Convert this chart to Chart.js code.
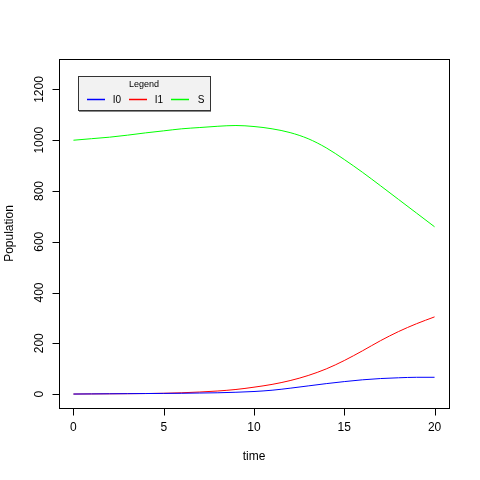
<!DOCTYPE html>
<html>
<head>
<meta charset="utf-8">
<script src="https://cdn.jsdelivr.net/npm/chart.js@4"></script>
<style>
  html, body { margin: 0; padding: 0; background: #fff; }
  #wrap { width: 480px; height: 480px; }
</style>
</head>
<body>
<div id="wrap"><canvas id="chart" width="480" height="480"></canvas></div>
<script>
const times = [0, 1, 2, 3, 4, 5, 6, 7, 8, 9, 10, 11, 12, 13, 14, 15, 16, 17, 18, 19, 20]
const seriesI0 = [0, 0.5, 1, 1.5, 2, 2.5, 3, 4, 5, 7, 10, 15, 23, 32, 41, 49, 56, 61, 64, 66, 66]
const seriesI1 = [0, 0.5, 1, 1.5, 2, 3, 5, 8, 12, 18, 27, 38, 53, 73, 99, 132, 170, 210, 246, 277, 304]
const seriesS = [1000, 1006, 1012, 1020, 1029, 1037, 1045, 1050, 1055, 1058, 1054, 1045, 1030, 1006, 970, 924, 874, 821, 767, 713, 659]
const seriesNames = ['I0', 'I1', 'S']
const seriesColors = ['#0000ff', '#ff0000', '#00ff00']
const xTicks = [0, 5, 10, 15, 20]
const yTicks = [0, 200, 400, 600, 800, 1000, 1200]
const xTitle = 'time'
const yTitle = 'Population'
const legendTitle = 'Legend'

const FONT = '"Liberation Sans", Arial, sans-serif'

const toPoints = vals => vals.map((v, i) => ({ x: times[i], y: v }))

// R-style box, axes and legend drawn from the chart's own scales
const rAxes = {
  id: 'rAxes',
  afterDraw(chart) {
    const { ctx, chartArea: a, scales: { x, y } } = chart
    ctx.save()
    ctx.strokeStyle = '#000'
    ctx.fillStyle = '#000'
    ctx.lineWidth = 1
    ctx.strokeRect(a.left + 0.5, a.top + 0.5, a.right - a.left, a.bottom - a.top)

    // x axis
    const xl = Math.round(x.getPixelForValue(xTicks[0])) + 0.5
    const xr = Math.round(x.getPixelForValue(xTicks[xTicks.length - 1])) + 0.5
    const xb = a.bottom + 0.5
    ctx.beginPath()
    ctx.moveTo(xl, xb); ctx.lineTo(xr, xb)
    xTicks.forEach(t => {
      const px = Math.round(x.getPixelForValue(t)) + 0.5
      ctx.moveTo(px, xb); ctx.lineTo(px, xb + 7)
    })
    ctx.stroke()
    ctx.font = '12px ' + FONT
    ctx.textAlign = 'center'
    ctx.textBaseline = 'middle'
    xTicks.forEach(t => ctx.fillText(String(t), x.getPixelForValue(t), a.bottom + 20))
    ctx.fillText(xTitle, (a.left + a.right) / 2, a.bottom + 49)

    // y axis
    const yb = Math.round(y.getPixelForValue(yTicks[0])) + 0.5
    const yt = Math.round(y.getPixelForValue(yTicks[yTicks.length - 1])) + 0.5
    const yl = a.left + 0.5
    ctx.beginPath()
    ctx.moveTo(yl, yb); ctx.lineTo(yl, yt)
    yTicks.forEach(t => {
      const py = Math.round(y.getPixelForValue(t)) + 0.5
      ctx.moveTo(yl, py); ctx.lineTo(yl - 7, py)
    })
    ctx.stroke()
    yTicks.forEach(t => {
      ctx.save()
      ctx.translate(a.left - 19, y.getPixelForValue(t))
      ctx.rotate(-Math.PI / 2)
      ctx.fillText(String(t), 0, 0)
      ctx.restore()
    })
    ctx.save()
    ctx.translate(a.left - 49, (a.top + a.bottom) / 2)
    ctx.rotate(-Math.PI / 2)
    ctx.fillText(yTitle, 0, 0)
    ctx.restore()

    // legend box
    const lx = 78, ly = 76, lw = 132, lh = 34
    ctx.fillStyle = '#f2f2f2'
    ctx.fillRect(lx, ly, lw, lh)
    ctx.strokeStyle = '#333'
    ctx.strokeRect(lx + 0.5, ly + 0.5, lw, lh)
    ctx.strokeStyle = '#888'
    ctx.beginPath()
    ctx.moveTo(lx + 1, ly + lh + 1.5); ctx.lineTo(lx + lw + 1, ly + lh + 1.5)
    ctx.stroke()
    ctx.fillStyle = '#000'
    ctx.font = '9px ' + FONT
    ctx.fillText(legendTitle, lx + lw / 2, ly + 9)
    ctx.font = '10px ' + FONT
    chart.data.datasets.forEach((ds, i) => {
      const sx = 87 + i * 42
      ctx.strokeStyle = ds.borderColor
      ctx.lineWidth = 1.5
      ctx.beginPath()
      ctx.moveTo(sx, ly + 23.5); ctx.lineTo(sx + 18, ly + 23.5)
      ctx.stroke()
      ctx.fillText(ds.label, sx + 30, ly + 24)
    })
    ctx.restore()
  }
}

new Chart(document.getElementById('chart'), {
  type: 'line',
  data: {
    datasets: [seriesI0, seriesI1, seriesS].map((vals, i) => ({
      label: seriesNames[i],
      data: toPoints(vals),
      borderColor: seriesColors[i],
      backgroundColor: seriesColors[i],
      borderWidth: 1,
      pointRadius: 0,
      cubicInterpolationMode: 'monotone',
      fill: false
    }))
  },
  options: {
    responsive: false,
    animation: false,
    events: [],
    layout: { padding: { left: 59, right: 31, top: 59, bottom: 72 } },
    plugins: { legend: { display: false }, tooltip: { enabled: false } },
    scales: {
      x: { type: 'linear', min: -0.8, max: 20.8, display: false },
      y: { type: 'linear', min: -55, max: 1320, display: false }
    }
  },
  plugins: [rAxes]
})
</script>
</body>
</html>
